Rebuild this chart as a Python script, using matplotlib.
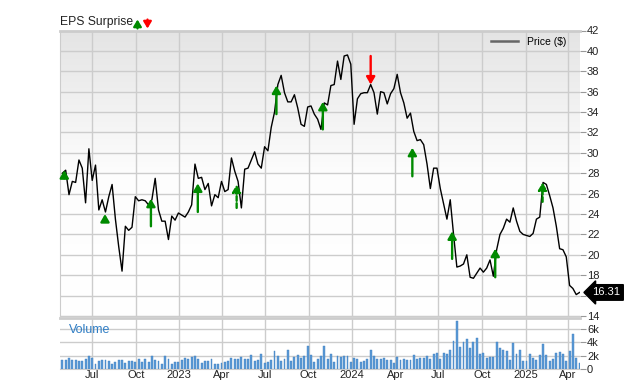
import matplotlib
matplotlib.use("Agg")
import matplotlib.pyplot as plt
import matplotlib.dates as mdates
import numpy as np
import pandas as pd
from matplotlib.lines import Line2D

plt.rcParams['font.family'] = ['Liberation Sans', 'DejaVu Sans']

# ---------------- data ----------------
start_date = "2022-04-29"
prices = [
    28.0, 28.3, 25.9, 27.2, 27.1, 29.3, 28.5, 25.1, 30.4, 27.3,
    28.8, 24.4, 25.4, 24.2, 25.7, 26.9, 23.5, 20.8, 18.4, 22.8,
    22.4, 22.7, 25.7, 25.3, 25.4, 25.3, 24.9, 25.4, 27.5, 24.4,
    23.3, 23.3, 21.5, 23.8, 23.4, 24.1, 23.9, 23.7, 24.2, 24.9,
    28.9, 27.5, 27.6, 26.4, 27.0, 24.8, 25.9, 25.6, 27.2, 26.2,
    26.4, 29.5, 28.2, 27.2, 24.6, 28.4, 28.5, 29.3, 30.1, 28.9,
    28.5, 30.6, 30.2, 32.5, 34.0, 36.7, 37.6, 35.9, 35.0, 35.0,
    35.7, 34.4, 32.8, 32.6, 34.5, 34.6, 33.8, 33.3, 32.3, 34.9,
    34.7, 36.6, 36.7, 39.0, 37.2, 39.5, 39.6, 38.7, 32.8, 35.3,
    35.8, 35.9, 35.9, 36.7, 35.9, 33.8, 36.0, 35.9, 34.8, 35.8,
    36.3, 37.7, 35.9, 34.9, 33.4, 33.9, 32.1, 31.2, 31.3, 30.8,
    28.9, 26.5, 28.5, 28.5, 26.5, 25.0, 23.5, 25.4, 22.0, 18.8,
    18.9, 19.1, 20.0, 17.8, 17.7, 18.2, 18.7, 18.3, 18.7, 19.5,
    17.9, 20.5, 22.0, 22.6, 23.5, 23.2, 24.6, 23.3, 22.3, 22.0,
    21.9, 21.8, 22.1, 23.5, 23.7, 27.1, 26.9, 25.8, 24.6, 22.8,
    20.6, 20.5, 19.8, 17.0, 16.7, 16.1, 16.31,
]
volume_k = [
    1.3, 1.3, 1.65, 1.3, 1.4, 1.15, 1.15, 1.55, 1.9, 1.7,
    0.7, 1.2, 1.4, 1.3, 1.15, 0.8, 1.05, 1.3, 1.3, 0.95,
    1.15, 1.15, 1.05, 1.45, 1.05, 1.55, 1.05, 1.9, 1.4, 1.15,
    0.8, 1.9, 1.55, 0.7, 1.0, 1.0, 1.3, 1.65, 1.45, 1.8,
    1.9, 1.55, 0.9, 1.15, 1.25, 1.55, 0.7, 0.7, 0.9, 1.05,
    1.15, 1.7, 1.55, 1.55, 1.8, 1.45, 1.55, 2.05, 1.15, 1.3,
    2.2, 0.9, 1.05, 1.3, 2.65, 1.9, 1.2, 1.55, 2.9, 1.2,
    1.8, 2.05,
    1.7, 2.0, 3.5, 2.1, 1.1, 1.5, 2.0, 3.5, 1.5, 2.2,
    1.1, 2.0, 1.75, 1.95, 1.9, 1.05, 1.7, 1.45, 1.05, 1.2,
    1.55, 2.8, 1.95, 1.45, 1.45, 1.65, 1.3, 1.3, 0.95, 1.8,
    1.3, 1.45, 1.3, 1.3, 2.05, 1.55, 1.65, 1.65, 1.95, 1.45,
    2.2, 2.4, 1.45, 2.45, 2.3, 2.8, 4.15, 7.15, 3.3, 3.95,
    4.45, 3.15, 4.05, 4.55, 2.3, 2.4, 1.65, 1.85, 1.8, 4.0,
    3.1, 2.85, 2.7, 1.3, 3.9, 2.2, 2.8, 1.15, 1.15, 2.2,
    1.7, 1.3, 2.05, 3.7, 2.15, 1.15, 1.45, 2.4, 2.55, 2.2,
    1.2, 2.65, 5.15, 1.7, 0.95,
]
# EPS surprise arrows: date, tail price, tip price, beat(True)/miss(False), dashed
eps_dates = ["2022-05-03", "2022-07-28", "2022-11-02", "2023-02-09", "2023-05-02",
             "2023-07-25", "2023-10-31", "2024-02-09", "2024-05-07", "2024-07-30",
             "2024-10-29", "2025-02-06"]
eps_tail = [27.5, 23.3, 22.8, 24.2, 24.6, 33.8, 32.3, 39.5, 27.7, 19.6, 17.8, 25.2]
eps_tip = [28.3, 24.0, 25.5, 27.0, 26.9, 36.6, 35.0, 36.7, 30.5, 22.3, 20.6, 27.1]
eps_beat = [True, True, True, True, True, True, True, False, True, True, True, True]
eps_dashed = [False, False, False, False, True, False, False, False, False, False, False, True]

price_ticks = list(range(14, 43, 2))
vol_ticks = [0, 2, 4, 6]
vol_labels = ["0", "2k", "4k", "6k"]
last_label = "16.31"

dates = pd.date_range(start_date, periods=len(prices), freq="W-FRI")
vdates = pd.date_range(start_date, periods=len(volume_k), freq="W-FRI")

# ---------------- figure ----------------
W, H = 640, 382
fig = plt.figure(figsize=(W / 100, H / 100), dpi=100)
axp = fig.add_axes([60 / W, 1 - 316 / H, 520 / W, 285.5 / H])
axv = fig.add_axes([60 / W, 1 - 369 / H, 520 / W, 51 / H], sharex=axp)

grid_c = "#cccccc"
txt_c = "#222222"

# gradient background (gray at top -> white at bottom)
grad = np.linspace(0, 1, 256).reshape(-1, 1)
cmap = matplotlib.colors.LinearSegmentedColormap.from_list("g", ["#e4e4e4", "#fdfdfd", "#ffffff"])
axp.imshow(grad, cmap=cmap, aspect="auto", extent=[0, 1, 0, 1], origin="upper",
           transform=axp.transAxes, zorder=0)

axp.plot(dates, prices, color="black", lw=1.0, zorder=3)

xmin = pd.Timestamp("2022-04-24")
xmax = pd.Timestamp("2025-04-26")
axp.set_xlim(xmin, xmax)
axp.set_ylim(14, 42)

for d, t0, t1, beat, dash in zip(eps_dates, eps_tail, eps_tip, eps_beat, eps_dashed):
    col = "#008a00" if beat else "#ff0000"
    axp.annotate("", xy=(pd.Timestamp(d), t1), xytext=(pd.Timestamp(d), t0),
                 arrowprops=dict(arrowstyle="-|>,head_length=0.55,head_width=0.32",
                                 mutation_scale=8, lw=1.7, color=col,
                                 linestyle=(0, (2, 1)) if dash else "-",
                                 shrinkA=0, shrinkB=0),
                 zorder=4)

# axes styling
for ax in (axp, axv):
    ax.yaxis.tick_right()
    ax.xaxis.set_major_locator(mdates.MonthLocator(bymonth=[1, 4, 7, 10]))
    ax.grid(True, color=grid_c, lw=1.0, zorder=1)
    ax.set_axisbelow(True)
    ax.spines["right"].set_visible(False)
    for s in ("left", "top", "bottom"):
        ax.spines[s].set_color(grid_c)
    ax.tick_params(axis="y", direction="out", length=4, width=0.8, color="#999999",
                   labelsize=8, labelcolor=txt_c, pad=1)
    ax.tick_params(axis="x", length=0, labelsize=8, labelcolor=txt_c)

axp.spines["top"].set_linewidth(2)
axp.set_yticks(price_ticks)
# the "16" label is covered by the last-price tag in the reference
axp.set_yticklabels(["" if v == 16 else str(v) for v in price_ticks])
plt.setp(axp.get_xticklabels(), visible=False)

def fmt(x, pos=None):
    d = mdates.num2date(x)
    return str(d.year) if d.month == 1 else d.strftime("%b")

axv.xaxis.set_major_formatter(plt.FuncFormatter(fmt))
axv.tick_params(axis="x", pad=1)

axp.legend(handles=[Line2D([], [], color="#666666", lw=1.8)], labels=["Price ($)"],
           loc="upper right", frameon=False, fontsize=7.5, handlelength=2.6,
           borderaxespad=0.2, bbox_to_anchor=(0.985, 1.0))

# last price label
axp.annotate(last_label, xy=(1.0, prices[-1]), xycoords=("axes fraction", "data"),
             xytext=(9, 0), textcoords="offset points", ha="left", va="center",
             color="white", fontsize=8,
             bbox=dict(boxstyle="larrow,pad=0.25", fc="black", ec="black"),
             annotation_clip=False, zorder=10)

# volume
axv.bar(vdates, volume_k, width=4.0, color="#5b9ad6", edgecolor="#3f7fc0", lw=0.3, zorder=2)
axv.set_ylim(0, 7.6)
axv.set_yticks(vol_ticks)
axv.set_yticklabels(vol_labels)
axv.spines["top"].set_linewidth(2)
axv.spines["left"].set_visible(False)
axv.text(0.018, 0.88, "Volume", transform=axv.transAxes, color="#2f7dc4",
         fontsize=9, va="top", ha="left")

# title
fig.text(60 / W, 1 - 22.5 / H, "EPS Surprise", fontsize=8.7, color=txt_c, va="center", ha="left")
axp.annotate("", xy=(137.5, H - 19.5), xytext=(137.5, H - 28.5), xycoords="figure pixels",
             textcoords="figure pixels",
             arrowprops=dict(arrowstyle="-|>,head_length=0.5,head_width=0.3",
                             mutation_scale=8, lw=1.6, color="#008a00",
                             shrinkA=0, shrinkB=0), annotation_clip=False)
axp.annotate("", xy=(147.5, H - 28.5), xytext=(147.5, H - 19.5), xycoords="figure pixels",
             textcoords="figure pixels",
             arrowprops=dict(arrowstyle="-|>,head_length=0.5,head_width=0.3",
                             mutation_scale=8, lw=1.6, color="#ff0000",
                             shrinkA=0, shrinkB=0), annotation_clip=False)

fig.savefig("out.png", dpi=100)
